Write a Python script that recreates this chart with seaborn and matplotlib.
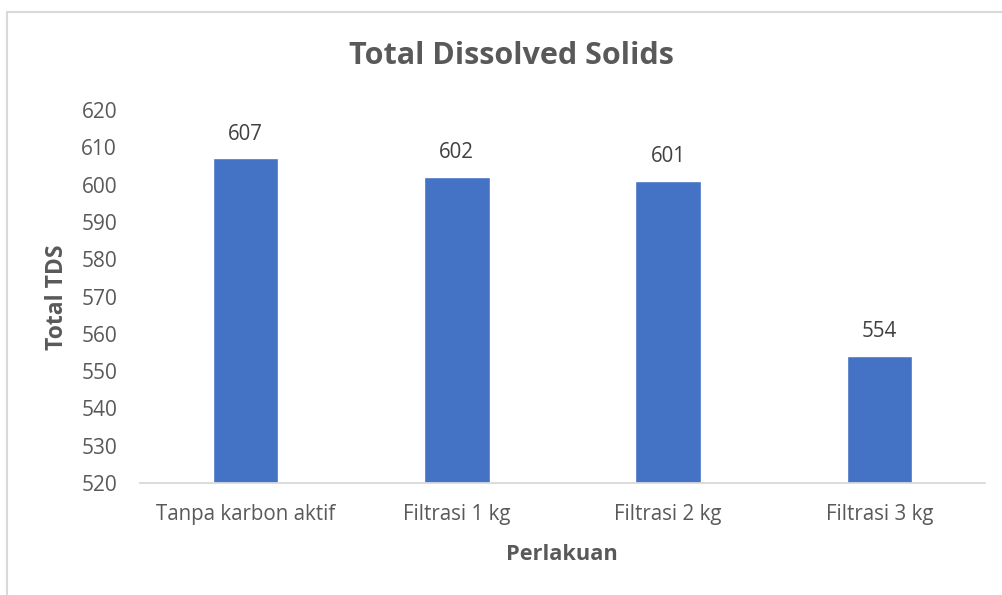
import matplotlib
matplotlib.use("Agg")
import matplotlib.pyplot as plt
import seaborn as sns
import pandas as pd
from matplotlib.patches import Rectangle

categories = ["Tanpa karbon aktif", "Filtrasi 1 kg", "Filtrasi 2 kg", "Filtrasi 3 kg"]
values = [607, 602, 601, 554]
yticks = [520, 530, 540, 550, 560, 570, 580, 590, 600, 610, 620]

sns.set_theme(style="white")
plt.rcParams['font.family'] = ['Open Sans', 'DejaVu Sans']

df = pd.DataFrame({"Perlakuan": categories, "TDS": values})

fig = plt.figure(figsize=(10.03, 5.95), dpi=100)
W, H = 1003, 595
ax = fig.add_axes([140 / W, 1 - 483 / H, (985 - 140) / W, (483 - 110) / H])

# outer chart frame
fig.patches.append(Rectangle((7 / W, -0.1), 1.2, 1 - 12 / H + 0.1, transform=fig.transFigure,
                             fill=False, edgecolor="#d9d9d9", linewidth=1.5, zorder=0))

sns.barplot(data=df, x="Perlakuan", y="TDS", color="#4472c4", saturation=1,
            width=0.31, ax=ax)
ax.set_ylim(520, 620)
ax.set_yticks(yticks)
ax.set_yticklabels([str(t) for t in yticks], fontsize=15, color="#595959")
ax.set_xlim(-0.5, 3.5)
for lbl in ax.get_xticklabels():
    lbl.set_fontsize(14.8)
    lbl.set_color("#595959")
ax.tick_params(axis='x', length=0, pad=15)
ax.tick_params(axis='y', length=0, pad=16.5)
for s in ["top", "right", "left"]:
    ax.spines[s].set_visible(False)
ax.spines["bottom"].set_color("#d9d9d9")
ax.spines["bottom"].set_linewidth(1.3)

for i, v in enumerate(values):
    ax.annotate(str(v), (i, v), xytext=(0, 10), textcoords="offset points",
                ha="center", va="bottom", fontsize=14.8, color="#404040")

ax.set_xlabel("")
ax.set_ylabel("")
fig.text(562 / W, 1 - 555 / H, "Perlakuan", ha="center", va="center",
         fontsize=15.7, fontweight="bold", color="#595959")
fig.text(57 / W, 1 - 297 / H, "Total TDS", ha="center", va="center", rotation=90,
         fontsize=16.5, fontweight="bold", color="#595959")
fig.text(511 / W, 1 - 56 / H, "Total Dissolved Solids", ha="center", va="center",
         fontsize=22, fontweight="bold", color="#595959")

fig.savefig("out.png", dpi=100)
